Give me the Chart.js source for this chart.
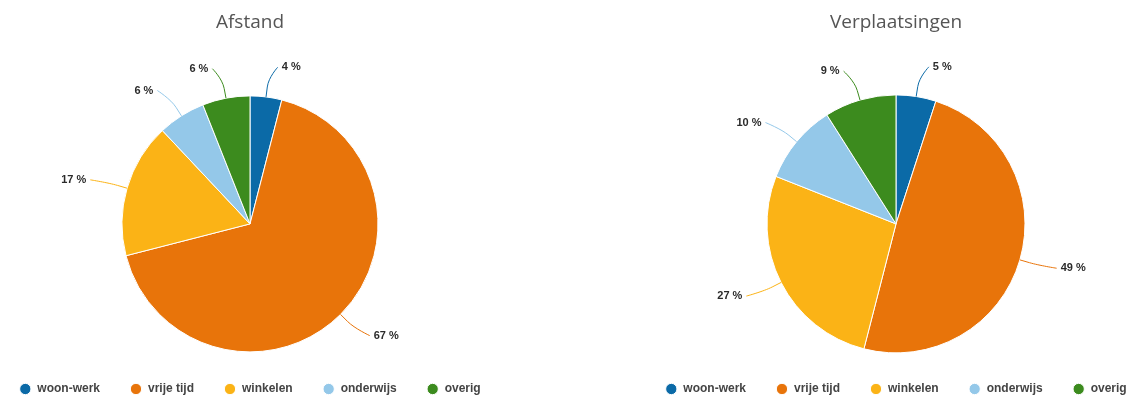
<!DOCTYPE html>
<html>
<head>
<meta charset="utf-8">
<script src="https://cdn.jsdelivr.net/npm/chart.js@4"></script>
<style>
    body {
        margin: 0;
        width: 1137px;
        height: 398px;
        overflow: hidden;
        position: relative;
        background: #fff;
    }
    .pane {
        position: absolute;
        top: 0;
        width: 568px;
        height: 405px;
    }
</style>
</head>
<body>
<div class="pane" style="left:-34px"><canvas id="afstandChart"></canvas></div>
<div class="pane" style="left:612px"><canvas id="verplaatsingenChart"></canvas></div>

<script>
// Motieven (aandeel in %)
const categories = ['woon-werk', 'vrije tijd', 'winkelen', 'onderwijs', 'overig'];
const afstand = [4, 67, 17, 6, 6];
const verplaatsingen = [5, 49, 27, 10, 9];

const sliceColors = ['#0b6aa7', '#e8740a', '#fbb316', '#94c8e9', '#3c8b1e'];

// Labels outside the pie with a soft curved connector
const outsideLabels = {
    id: 'outsideLabels',
    afterDatasetsDraw(chart) {
        const ctx = chart.ctx;
        const meta = chart.getDatasetMeta(0);
        const values = chart.data.datasets[0].data;
        ctx.save();
        ctx.font = 'bold 11px "Liberation Sans", Arial, sans-serif';
        ctx.textBaseline = 'middle';
        meta.data.forEach((arc, i) => {
            const mid = (arc.startAngle + arc.endAngle) / 2;
            const r = arc.outerRadius;
            const R = r + 30;
            const cos = Math.cos(mid), sin = Math.sin(mid);
            const side = cos >= 0 ? 1 : -1;
            const y = arc.y + R * sin;
            const lx = arc.x + R * cos + side * 8;

            const ex = arc.x + r * cos, ey = arc.y + r * sin;
            const bx = arc.x + (r + 10) * cos, by = arc.y + (r + 10) * sin;

            ctx.strokeStyle = sliceColors[i];
            ctx.lineWidth = 1;
            ctx.beginPath();
            ctx.moveTo(lx, y);
            ctx.bezierCurveTo(lx, y, 2 * bx - ex, 2 * by - ey, bx, by);
            ctx.lineTo(ex, ey);
            ctx.stroke();

            ctx.fillStyle = '#2b2b2b';
            ctx.textAlign = side > 0 ? 'left' : 'right';
            ctx.fillText(values[i] + ' %', lx + side * 4, y);
        });
        ctx.restore();
    }
};

function makePie(id, title, values, radius) {
    new Chart(document.getElementById(id), {
        type: 'pie',
        data: {
            labels: categories,
            datasets: [{
                data: values,
                backgroundColor: sliceColors,
                borderColor: '#fff',
                borderWidth: 1,
                radius: radius
            }]
        },
        options: {
            responsive: true,
            maintainAspectRatio: false,
            animation: false,
            plugins: {
                title: {
                    display: true,
                    text: title,
                    color: '#555',
                    font: { family: '"Open Sans", sans-serif', size: 19, weight: 'normal' },
                    padding: { top: 11, bottom: 61 }
                },
                legend: {
                    position: 'bottom',
                    labels: {
                        usePointStyle: true,
                        pointStyle: 'circle',
                        boxWidth: 24,
                        boxHeight: 8,
                        padding: 30,
                        color: '#444',
                        font: { family: '"Liberation Sans", Arial, sans-serif', size: 12, weight: 'bold' }
                    }
                },
                tooltip: { enabled: false }
            }
        },
        plugins: [outsideLabels]
    });
}

makePie('afstandChart', 'Afstand', afstand, 128);
makePie('verplaatsingenChart', 'Verplaatsingen', verplaatsingen, 129);
</script>
</body>
</html>
